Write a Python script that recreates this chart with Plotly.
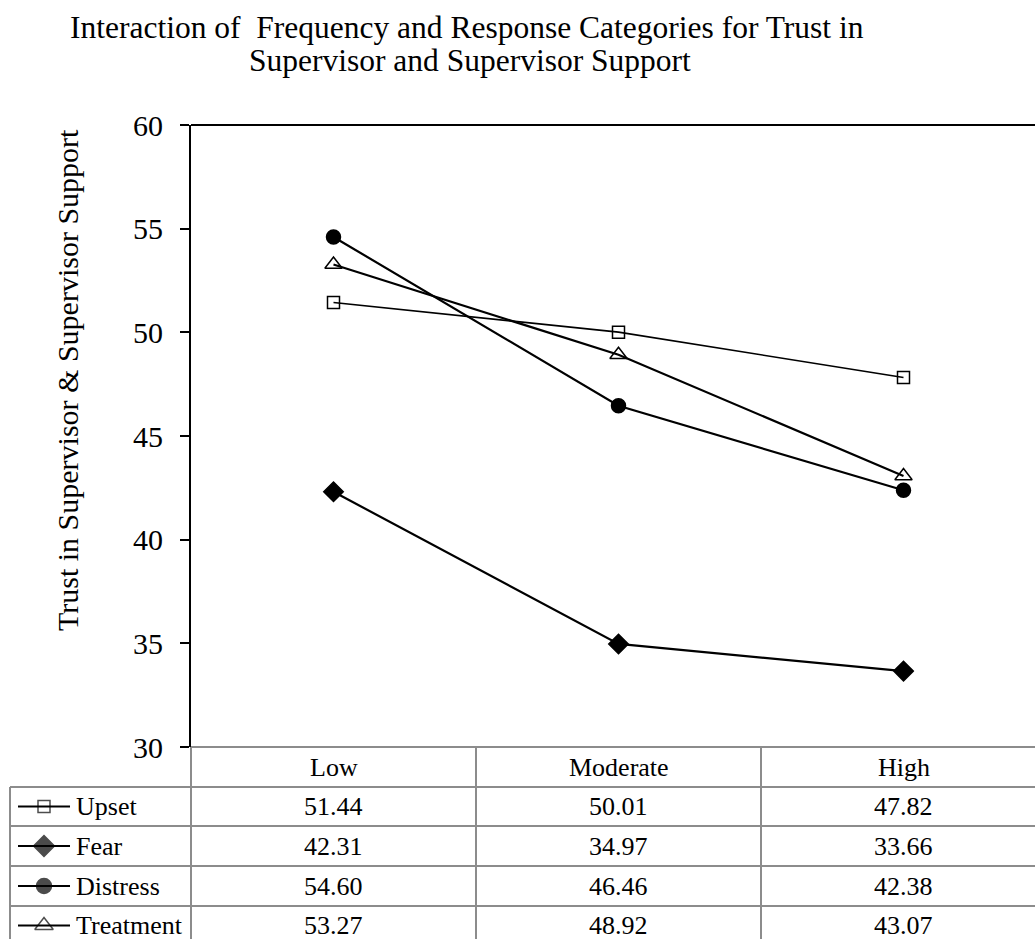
import plotly.graph_objects as go

# ---- data ----
categories = ["Low", "Moderate", "High"]
series_names = ["Upset", "Fear", "Distress", "Treatment"]
upset = [51.44, 50.01, 47.82]
fear = [42.31, 34.97, 33.66]
distress = [54.60, 46.46, 42.38]
treatment = [53.27, 48.92, 43.07]
series_values = [upset, fear, distress, treatment]
y_ticks = [30, 35, 40, 45, 50, 55, 60]
title_lines = ["Interaction of \u00a0Frequency and Response Categories for Trust in",
               "Supervisor and Supervisor Support"]
y_title = "Trust in Supervisor & Supervisor Support"

# ---- styles ----
W, H = 1035, 939
FONT = "Liberation Serif"
plot_left, plot_top, plot_bottom = 191, 125, 747
x_range = [-0.5, -0.5 + (W - plot_left) / 285.0]
styles = {
    "Upset": dict(symbol="square-open", size=12, lw=1.6),
    "Fear": dict(symbol="diamond", size=15, lw=2.2),
    "Distress": dict(symbol="circle", size=14, lw=2.2),
    "Treatment": dict(symbol="triangle-up-open", size=15, lw=2.2),
}

def px_x(v):
    return plot_left + (v - x_range[0]) / (x_range[1] - x_range[0]) * (W - plot_left)

def paper_x(px):
    return px / W

def paper_y(py):
    return (H - py) / H

fig = go.Figure()
for name, vals in zip(series_names, series_values):
    s = styles[name]
    fig.add_trace(go.Scatter(
        x=categories, y=vals, mode="lines+markers", name=name,
        line=dict(color="black", width=s["lw"]),
        marker=dict(symbol=s["symbol"], size=s["size"], color="black",
                    line=dict(color="black", width=1.5)),
        showlegend=False, cliponaxis=False,
    ))

# ---- data table (below plot) ----
row_lines = [747, 787, 826, 866, 906]
row_centers = [(row_lines[i] + row_lines[i + 1]) / 2 for i in range(4)] + [925.5]
header_center = row_centers[0]
data_row_centers = row_centers[1:]
grid = "#8c8c8c"
shapes = []
shapes.append(dict(type="line", xref="paper", yref="paper",
                   x0=paper_x(plot_left), x1=1, y0=paper_y(747), y1=paper_y(747),
                   line=dict(color=grid, width=2)))
for py in row_lines[1:]:
    shapes.append(dict(type="line", xref="paper", yref="paper",
                       x0=paper_x(10), x1=1, y0=paper_y(py), y1=paper_y(py),
                       line=dict(color=grid, width=2)))
shapes.append(dict(type="line", xref="paper", yref="paper",
                   x0=paper_x(10), x1=paper_x(10), y0=paper_y(787), y1=0,
                   line=dict(color=grid, width=2)))
for i in range(len(categories)):
    xv = px_x(i - 0.5)
    shapes.append(dict(type="line", xref="paper", yref="paper",
                       x0=paper_x(xv), x1=paper_x(xv), y0=paper_y(747), y1=0,
                       line=dict(color=grid, width=2)))
shapes.append(dict(type="line", xref="paper", yref="paper",
                   x0=paper_x(plot_left), x1=1, y0=paper_y(plot_top), y1=paper_y(plot_top),
                   line=dict(color="black", width=2)))

annotations = []
for i, cat in enumerate(categories):
    annotations.append(dict(x=paper_x(px_x(i)), y=paper_y(header_center), xref="paper", yref="paper",
                            text=cat, showarrow=False, xanchor="center", yanchor="middle",
                            font=dict(family=FONT, size=26, color="black")))
key_sizes = {"Upset": 12, "Fear": 16, "Distress": 15, "Treatment": 16}
for r, (name, vals) in enumerate(zip(series_names, series_values)):
    yc = data_row_centers[r]
    for i, v in enumerate(vals):
        annotations.append(dict(x=paper_x(px_x(i)), y=paper_y(yc), xref="paper", yref="paper",
                                text=f"{v:.2f}", showarrow=False, xanchor="center", yanchor="middle",
                                font=dict(family=FONT, size=26, color="black")))
    annotations.append(dict(x=paper_x(74), y=paper_y(yc), xref="paper", yref="paper",
                            text=name, showarrow=False, xanchor="left", yanchor="middle",
                            font=dict(family=FONT, size=26, color="black")))
    s = styles[name]
    fig.add_trace(go.Scatter(
        x=[18, 44, 70], y=[yc, yc, yc], xaxis="x2", yaxis="y2",
        mode="lines+markers", showlegend=False, hoverinfo="skip", cliponaxis=False,
        line=dict(color="black", width=2),
        marker=dict(symbol=s["symbol"], size=[0, key_sizes[name], 0], color="black",
                    line=dict(color="black", width=1.5)),
    ))

annotations.append(dict(x=paper_x(467), y=paper_y(27), xref="paper", yref="paper",
                        text=title_lines[0], showarrow=False, xanchor="center", yanchor="middle",
                        font=dict(family=FONT, size=31.5, color="black")))
annotations.append(dict(x=paper_x(470), y=paper_y(60), xref="paper", yref="paper",
                        text=title_lines[1], showarrow=False, xanchor="center", yanchor="middle",
                        font=dict(family=FONT, size=31.5, color="black")))
annotations.append(dict(x=paper_x(67), y=paper_y(380), xref="paper", yref="paper",
                        text=y_title, showarrow=False, textangle=-90,
                        xanchor="center", yanchor="middle",
                        font=dict(family=FONT, size=30, color="black")))

fig.update_layout(
    width=W, height=H, autosize=False,
    margin=dict(l=0, r=0, t=0, b=0, pad=0),
    paper_bgcolor="white", plot_bgcolor="rgba(0,0,0,0)",
    showlegend=False,
    xaxis=dict(domain=[plot_left / W, 1], type="category", categoryorder="array",
               categoryarray=categories, range=x_range, automargin=False,
               showticklabels=False, showgrid=False, zeroline=False, showline=False, ticks=""),
    yaxis=dict(domain=[(H - plot_bottom) / H, (H - plot_top) / H], range=[30, 60],
               automargin=False,
               tickvals=y_ticks, ticktext=[str(t) for t in y_ticks],
               showgrid=False, zeroline=False, showline=True, linecolor="black", linewidth=2,
               ticks="outside", ticklen=9, tickwidth=2, tickcolor="black",
               ticklabelstandoff=11,
               tickfont=dict(family=FONT, size=30, color="black")),
    xaxis2=dict(domain=[0, 1], range=[0, W], visible=False, anchor="y2", automargin=False),
    yaxis2=dict(domain=[0, 1], range=[H, 0], visible=False, anchor="x2", automargin=False),
    shapes=shapes,
    annotations=annotations,
)

fig.write_html("out.html")
